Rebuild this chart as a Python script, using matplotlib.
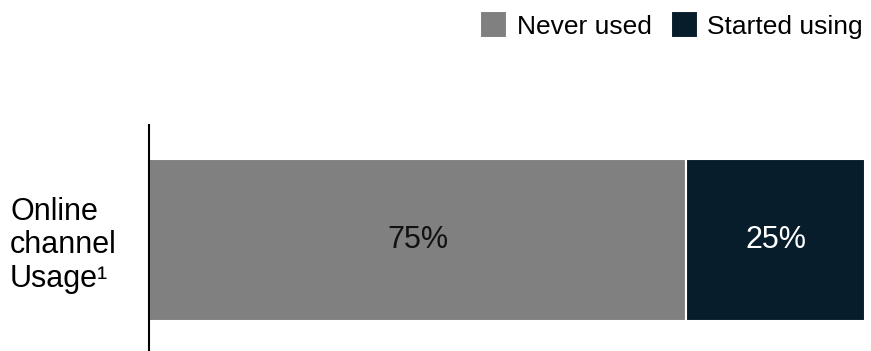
import matplotlib.pyplot as plt

plt.rcParams['font.family'] = ['Liberation Sans', 'DejaVu Sans']

# Survey data
category = 'Online\nchannel\nUsage¹'
series = ['Never used', 'Started using']
shares = [75, 25]
colors = ['#808080', '#081d2c']
text_colors = ['#111111', 'white']

fig = plt.figure(figsize=(8.71, 3.51), dpi=100)
ax = fig.add_axes([149 / 871, 0, (865 - 149) / 871, 226 / 351])

left = 0
for name, val, col, tcol in zip(series, shares, colors, text_colors):
    ax.barh(0, val, left=left, height=0.717, color=col, edgecolor='white',
            linewidth=1.5, label=name)
    ax.text(left + val / 2, 0, f'{val}%', ha='center', va='center',
            fontsize=22, color=tcol)
    left += val

ax.set_xlim(0, 100)
ax.set_ylim(-0.491, 0.509)

# Only the left axis line is shown
for side in ['top', 'right', 'bottom']:
    ax.spines[side].set_visible(False)
ax.spines['left'].set_linewidth(1.5)
ax.set_xticks([])
ax.set_yticks([0])
ax.set_yticklabels([category], fontsize=22, linespacing=1.15)
for lbl in ax.get_yticklabels():
    lbl.set_horizontalalignment('left')
ax.tick_params(axis='y', length=0, pad=100)

fig.legend(loc='upper right', bbox_to_anchor=(1.0, 0.99), frameon=False,
           ncol=2, fontsize=19, handlelength=1.02, handleheight=1.2,
           handletextpad=0.35, columnspacing=0.75, borderaxespad=0.0,
           borderpad=0.3)

plt.savefig('out.png', dpi=100)
